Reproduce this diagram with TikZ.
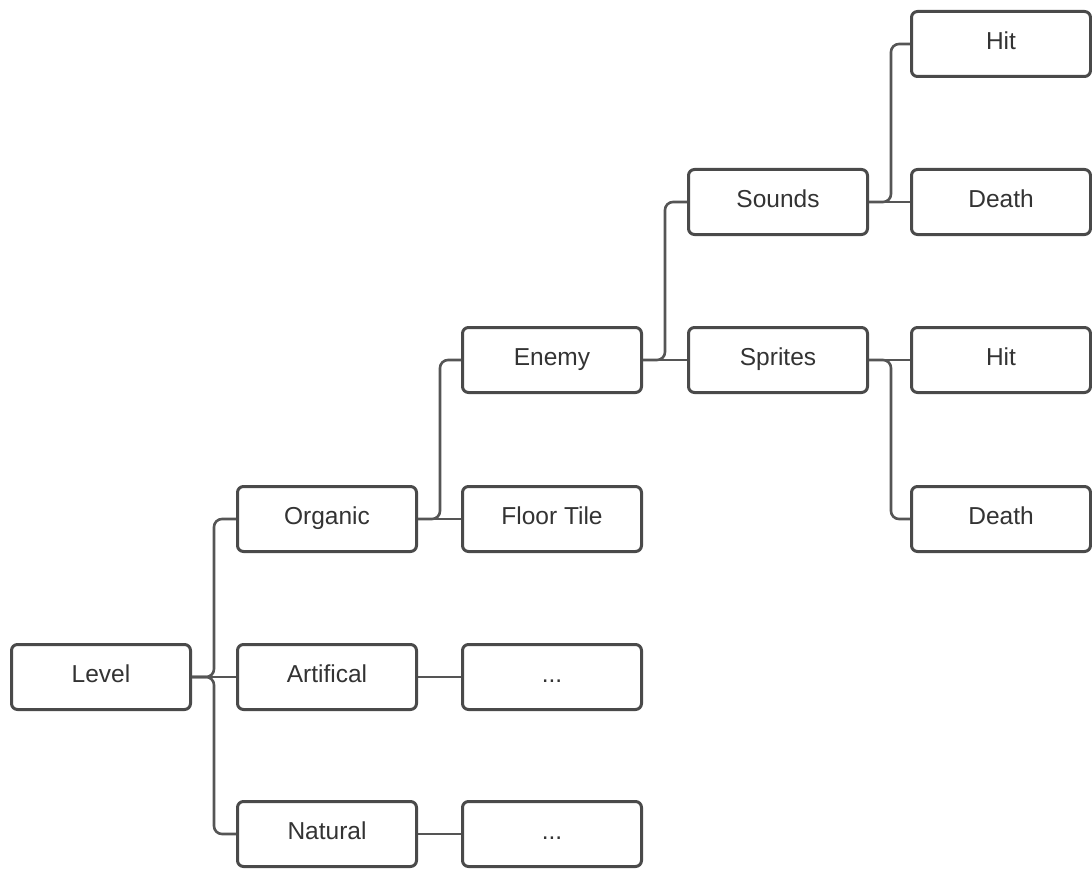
\documentclass[tikz,border=0pt]{standalone}
\usepackage{fontspec}
\setmainfont{Liberation Sans}
\definecolor{boxgray}{HTML}{4A4A4A}
\definecolor{linegray}{HTML}{555555}
\definecolor{txtgray}{HTML}{333333}
\begin{document}
\begin{tikzpicture}[x=1pt,y=-1pt,
  box/.style={draw=boxgray, line width=3pt, rounded corners=6pt,
    minimum width=179pt, minimum height=65pt, inner sep=0pt,
    text height=10.5pt, text depth=0pt,
    font=\fontsize{24.5}{28}\selectfont, text=txtgray},
  link/.style={draw=linegray, line width=2.6pt, rounded corners=8pt}]
\useasboundingbox[fill=white] (0,0) rectangle (1092,869);

% column and row centres
\def\cA{101}\def\cB{327}\def\cC{552}\def\cD{778}\def\cE{1001}
\def\rA{44}\def\rB{202}\def\rC{360}\def\rD{519}\def\rE{677}\def\rF{834}

\node[box] (level)    at (\cA,\rE) {Level};
\node[box] (organic)  at (\cB,\rD) {Organic};
\node[box] (artific)  at (\cB,\rE) {Artifical};
\node[box] (natural)  at (\cB,\rF) {Natural};
\node[box] (enemy)    at (\cC,\rC) {Enemy};
\node[box] (floor)    at (\cC,\rD) {Floor Tile};
\node[box] (moreA)    at (\cC,\rE) {...};
\node[box] (moreN)    at (\cC,\rF) {...};
\node[box] (sounds)   at (\cD,\rB) {Sounds};
\node[box] (sprites)  at (\cD,\rC) {Sprites};
\node[box] (shit)     at (\cE,\rA) {Hit};
\node[box] (sdeath)   at (\cE,\rB) {Death};
\node[box] (phit)     at (\cE,\rC) {Hit};
\node[box] (pdeath)   at (\cE,\rD) {Death};

% elbow connectors: parent -> trunk -> child
\foreach \p/\c in {level/organic, level/natural, organic/enemy,
                   enemy/sounds, sounds/shit, sprites/pdeath}{
  \draw[link] (\p.east) -- ++(22,0) |- (\c.west);
}
\foreach \p/\c in {level/artific, artific/moreA, natural/moreN,
                   organic/floor, enemy/sprites, sounds/sdeath, sprites/phit}{
  \draw[link] (\p.east) -- (\c.west);
}
\end{tikzpicture}
\end{document}
